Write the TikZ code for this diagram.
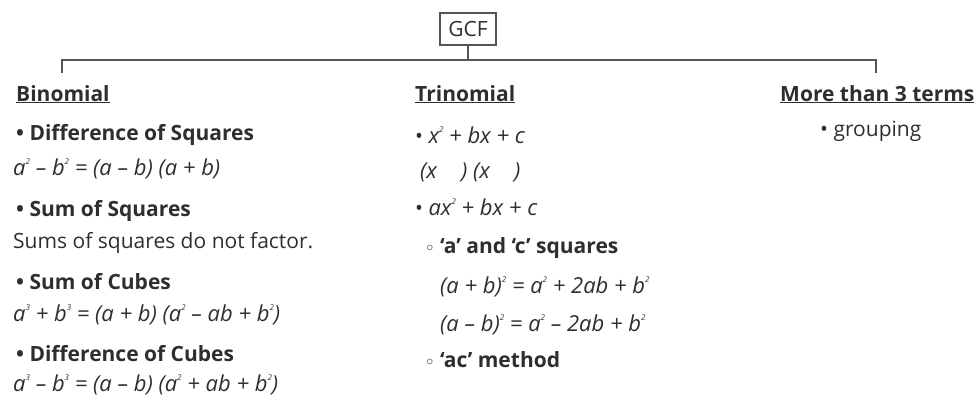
\documentclass[tikz,border=0pt]{standalone}
\usepackage{fontspec}
\setmainfont{Open Sans}
\newfontfamily\symfont{DejaVu Sans}
\usepackage{xcolor}
\usetikzlibrary{positioning}

\definecolor{txtgray}{HTML}{2E2E2E}
\definecolor{linegray}{HTML}{555555}

% small raised exponent and hollow bullet
\newcommand\pw[1]{\raisebox{0.48em}{\fontsize{8}{8}\selectfont #1}}
\newcommand\hollow{{\symfont\fontsize{15}{15}\selectfont ◦}}

\begin{document}
\begin{tikzpicture}[x=1pt,y=-1pt,
    txt/.style={anchor=base west,inner sep=0pt,text=txtgray,font=\fontsize{21}{24}\selectfont},
    bold/.style={txt,font=\fontsize{21}{24}\selectfont\bfseries},
    formula/.style={txt,font=\fontsize{22}{24}\selectfont\itshape},
    topbox/.style={draw=linegray,line width=1.1pt,text=txtgray,font=\fontsize{21}{24}\selectfont,
        minimum width=56pt,minimum height=32pt,inner sep=0pt},
    link/.style={draw=linegray,line width=1.1pt}]
    \useasboundingbox (0,0) rectangle (979,396);

    % Top box and the bar under it
    \node[topbox] (gcf) at (468,29) {GCF};
    \coordinate (bar) at (468,60);
    \coordinate (bintick) at (62,73);
    \coordinate (moretick) at (876,73);
    \draw[link] (gcf.south) -- (bar);
    \draw[link] (bintick) |- (bar) -| (moretick);

    % Binomial column
    \node[bold] (bin) at (16,101) {\underline{Binomial}};
    \node[bold] (dsq) at (16,140) {• Difference of Squares};
    \node[formula] (dsqf) at (13,175) {a\pw{2} – b\pw{2} = (a – b) (a + b)};
    \node[bold] (ssq) at (16,216) {• Sum of Squares};
    \node[txt] (ssqt) at (13,248) {Sums of squares do not factor.};
    \node[bold] (scu) at (16,289) {• Sum of Cubes};
    \node[formula] (scuf) at (13,321) {a\pw{3} + b\pw{3} = (a + b) (a\pw{2} – ab + b\pw{2})};
    \node[bold] (dcu) at (16,361) {• Difference of Cubes};
    \node[formula] (dcuf) at (13,391) {a\pw{3} – b\pw{3} = (a – b) (a\pw{2} + ab + b\pw{2})};

    % Trinomial column
    \node[bold] (tri) at (415,101) {\underline{Trinomial}};
    \node[txt] (tria) at (415,143) {• {\fontsize{22}{24}\selectfont\itshape x\pw{2} + bx + c}};
    \node[formula] (triaf) at (420,178) {(x\hspace{1.1em}) (x\hspace{1.1em})};
    \node[txt] (trib) at (415,215) {• {\fontsize{22}{24}\selectfont\itshape ax\pw{2} + bx + c}};
    \node[bold] (acsq) at (425,253) {\hollow\ ‘a’ and ‘c’ squares};
    \node[formula] (acsqa) at (440,293) {(a + b)\pw{2} = a\pw{2} + 2ab + b\pw{2}};
    \node[formula] (acsqb) at (440,331) {(a – b)\pw{2} = a\pw{2} – 2ab + b\pw{2}};
    \node[bold] (acm) at (425,367) {\hollow\ ‘ac’ method};

    % More than 3 terms column
    \node[bold] (more) at (780,101) {\underline{More than 3 terms}};
    \node[txt] (grp) at (820,136) {• grouping};
\end{tikzpicture}
\end{document}
